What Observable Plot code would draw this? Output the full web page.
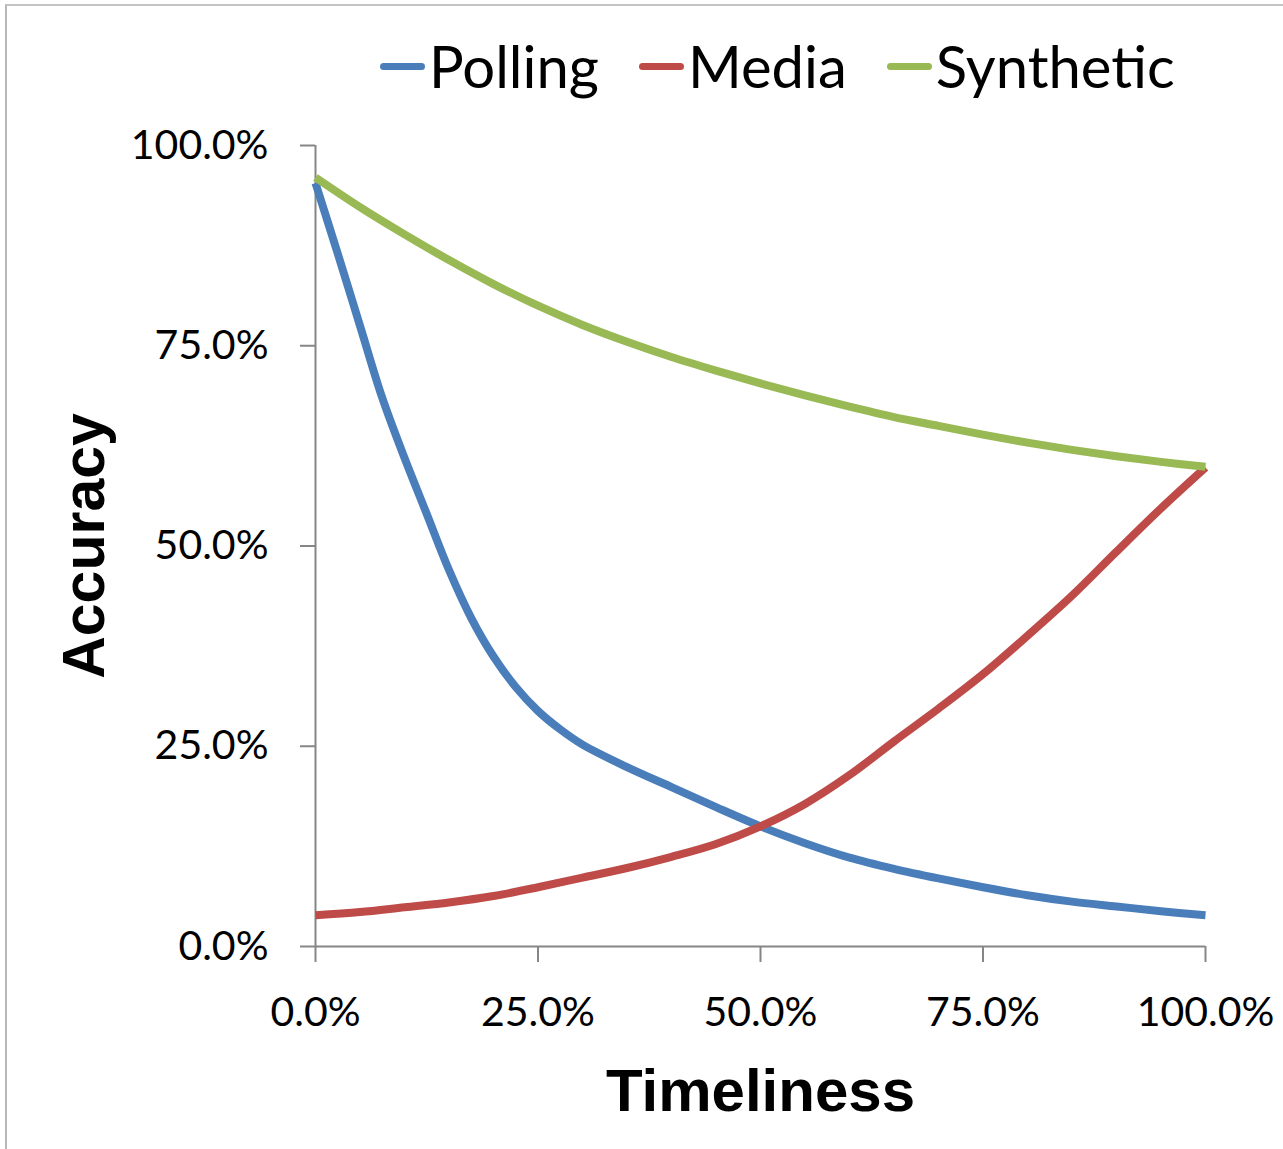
<!DOCTYPE html>
<html>
<head>
<meta charset="utf-8">
<script src="https://cdn.jsdelivr.net/npm/d3@7"></script>
<script src="https://cdn.jsdelivr.net/npm/@observablehq/plot@0.6"></script>
<style>
  html, body { margin: 0; padding: 0; background: #fff; }
  #wrap { position: relative; width: 1283px; height: 1149px; overflow: hidden; background: #fff; }
  #frame { position: absolute; left: 5px; top: 4px; width: 1300px; height: 1200px;
           border-left: 2px solid #b8b8b8; border-top: 2px solid #c4c4c4; box-sizing: border-box; }
  #chart { position: absolute; left: 0; top: 0; }
  #legend { position: absolute; left: 380px; top: 37px; display: flex; align-items: center;
            font-family: Lato, "Open Sans", sans-serif; font-size: 58px; line-height: 1; color: #000; }
  .item { display: flex; align-items: center; margin-right: 40px; }
  .sw { width: 45px; height: 7px; border-radius: 3.5px; margin-right: 4px; }
</style>
</head>
<body>
<div id="wrap">
  <div id="frame"></div>
  <div id="chart"></div>
  <div id="legend"></div>
</div>
<script>
// Timeliness (x, %) and Accuracy (y, %) for each series
const seriesNames = ["Polling", "Media", "Synthetic"];
const seriesColors = ["#4a7ebb", "#be4b48", "#98b954"];

const pollingX = [0, 2.5, 5, 7.5, 10, 12.5, 15, 17.5, 20, 22.5, 25, 27.5, 30, 35, 40, 45, 50, 55, 60, 65, 70, 75, 80, 85, 90, 95, 100];
const pollingY = [95.3, 86.5, 77.5, 68.5, 61, 54, 47, 41, 36.2, 32.4, 29.4, 27.1, 25.2, 22.4, 19.9, 17.4, 15.0, 12.9, 11.1, 9.7, 8.5, 7.4, 6.4, 5.6, 5.0, 4.4, 3.9];

const mediaX = [0, 5, 10, 15, 20, 25, 30, 35, 40, 45, 50, 55, 60, 65, 70, 75, 80, 85, 90, 95, 100];
const mediaY = [3.9, 4.3, 4.9, 5.5, 6.3, 7.4, 8.6, 9.8, 11.2, 12.8, 15.0, 17.8, 21.4, 25.6, 29.7, 34.0, 38.8, 43.8, 49.3, 54.7, 59.8];

const syntheticX = [0, 5, 10, 15, 20, 25, 30, 35, 40, 45, 50, 55, 60, 65, 70, 75, 80, 85, 90, 95, 100];
const syntheticY = [96.0, 92.3, 88.9, 85.7, 82.7, 80.0, 77.6, 75.5, 73.6, 71.9, 70.3, 68.8, 67.4, 66.1, 65.0, 63.9, 62.9, 62.0, 61.2, 60.5, 59.9];

const tickValues = [0, 25, 50, 75, 100];
const xTitle = "Timeliness";
const yTitle = "Accuracy";

const seriesX = [pollingX, mediaX, syntheticX];
const seriesY = [pollingY, mediaY, syntheticY];
const rows = [];
seriesNames.forEach((name, i) => {
  seriesX[i].forEach((x, j) => rows.push({series: name, x: x / 100, y: seriesY[i][j] / 100}));
});
const ticks = tickValues.map(t => t / 100);
const fmt = d3.format(".1%");
const axisColor = "#868686";

const chart = Plot.plot({
  width: 1283,
  height: 1149,
  marginLeft: 315,
  marginRight: 78,
  marginTop: 145,
  marginBottom: 203,
  style: {fontFamily: "Lato, 'Open Sans', sans-serif", fontSize: "41px", color: "#000", background: "transparent"},
  x: {domain: [0, 1]},
  y: {domain: [0, 1]},
  color: {domain: seriesNames, range: seriesColors},
  marks: [
    Plot.axisY(ticks, {tickSize: 15, tickPadding: 32, tickFormat: fmt, stroke: axisColor, strokeWidth: 2, fill: "#000", label: null}),
    Plot.axisX(ticks, {tickSize: 16, tickPadding: 34, tickFormat: fmt, stroke: axisColor, strokeWidth: 2, fill: "#000", label: null}),
    Plot.ruleX([0], {stroke: axisColor, strokeWidth: 2}),
    Plot.ruleY([0], {stroke: axisColor, strokeWidth: 2}),
    Plot.line(rows, {x: "x", y: "y", z: "series", stroke: "series", strokeWidth: 8, curve: "catmull-rom", strokeLinecap: "butt", strokeLinejoin: "round"}),
    Plot.text([yTitle], {frameAnchor: "left", rotate: -90, dx: -212, lineAnchor: "bottom", textAnchor: "middle",
      fontFamily: "'Liberation Sans', Arial, sans-serif", fontWeight: "bold", fontSize: 59, fill: "#000"}),
    Plot.text([xTitle], {frameAnchor: "bottom", dy: 164, lineAnchor: "bottom", textAnchor: "middle",
      fontFamily: "'Liberation Sans', Arial, sans-serif", fontWeight: "bold", fontSize: 60, fill: "#000"})
  ]
});
document.getElementById("chart").appendChild(chart);

const legend = document.getElementById("legend");
seriesNames.forEach((name, i) => {
  const item = document.createElement("div");
  item.className = "item";
  const sw = document.createElement("span");
  sw.className = "sw";
  sw.style.background = seriesColors[i];
  const label = document.createElement("span");
  label.textContent = name;
  item.appendChild(sw);
  item.appendChild(label);
  legend.appendChild(item);
});
</script>
</body>
</html>
